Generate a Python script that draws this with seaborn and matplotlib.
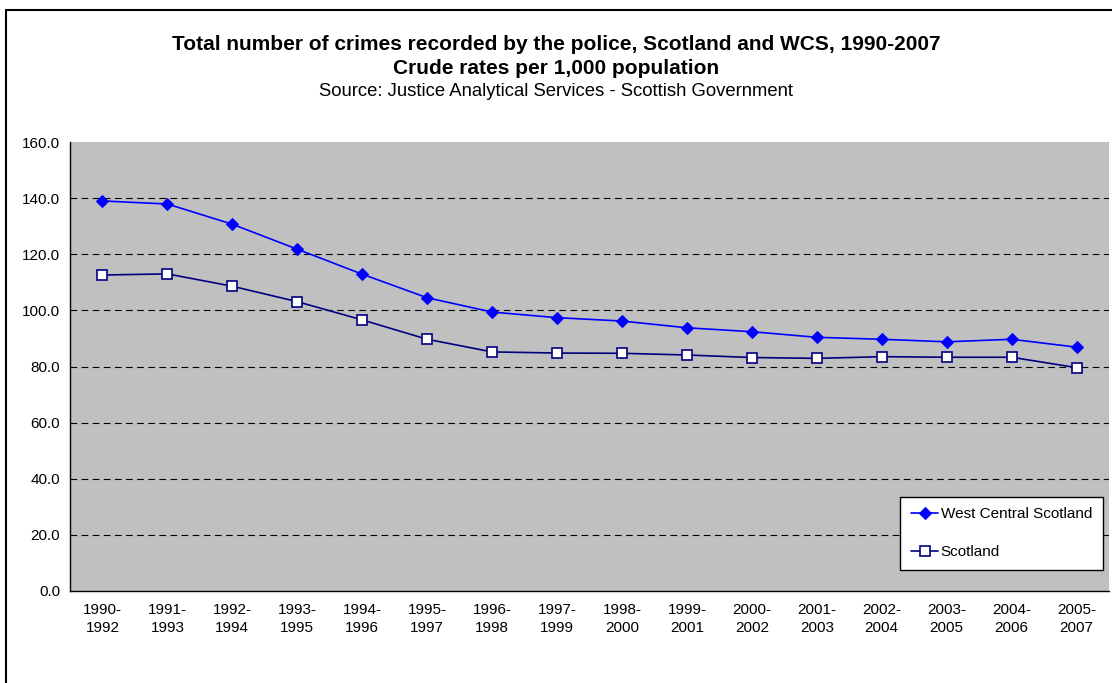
import matplotlib
matplotlib.use("Agg")
import matplotlib.pyplot as plt
import seaborn as sns
import pandas as pd
from matplotlib.lines import Line2D
from matplotlib.ticker import FixedLocator, NullFormatter

periods = ["1990-\n1992", "1991-\n1993", "1992-\n1994", "1993-\n1995", "1994-\n1996",
           "1995-\n1997", "1996-\n1998", "1997-\n1999", "1998-\n2000", "1999-\n2001",
           "2000-\n2002", "2001-\n2003", "2002-\n2004", "2003-\n2005", "2004-\n2006",
           "2005-\n2007"]
wcs = [139.0, 137.9, 130.7, 121.8, 112.9, 104.5, 99.4, 97.4, 96.2, 93.8,
       92.4, 90.4, 89.7, 88.8, 89.7, 86.9]
scotland = [112.6, 113.0, 108.6, 103.1, 96.6, 89.7, 85.2, 84.8, 84.7, 84.1,
            83.2, 82.9, 83.5, 83.3, 83.3, 79.6]
y_ticks = [0, 20, 40, 60, 80, 100, 120, 140, 160]

sns.set_style("white")
plt.rcParams["font.family"] = ["Liberation Sans", "DejaVu Sans"]
plt.rcParams["text.color"] = "black"
plt.rcParams["xtick.color"] = "black"
plt.rcParams["ytick.color"] = "black"

df = pd.DataFrame({"period": periods * 2,
                   "rate": wcs + scotland,
                   "area": ["West Central Scotland"] * len(wcs) + ["Scotland"] * len(scotland)})

fig = plt.figure(figsize=(11.12, 6.83), dpi=100)
fig.patch.set_facecolor("white")
ax = fig.add_axes([70 / 1112, 92 / 683, 1039 / 1112, 449 / 683])
ax.set_facecolor("#C0C0C0")

sns.lineplot(data=df[df.area == "West Central Scotland"], x="period", y="rate",
             ax=ax, color="#0000FF", lw=1.2, marker="D", markersize=6,
             markerfacecolor="#0000FF", markeredgecolor="#0000FF",
             label="West Central Scotland", sort=False)
sns.lineplot(data=df[df.area == "Scotland"], x="period", y="rate",
             ax=ax, color="#000080", lw=1.2, marker="s", markersize=7,
             markerfacecolor="white", markeredgecolor="#000080", markeredgewidth=1.2,
             label="Scotland", sort=False)

ax.set_xlim(-0.5, len(periods) - 0.5)
ax.set_ylim(0, 160)
ax.set_yticks(y_ticks)
ax.set_yticklabels([f"{v:.1f}" for v in y_ticks], fontsize=11)
ax.set_xticks(range(len(periods)))
ax.set_xticklabels(periods, fontsize=11, linespacing=1.35)
ax.xaxis.set_minor_locator(FixedLocator([i - 0.5 for i in range(len(periods) + 1)]))
ax.xaxis.set_minor_formatter(NullFormatter())
ax.tick_params(axis="x", which="major", length=0, pad=9)
ax.tick_params(axis="x", which="minor", length=5, width=1, color="black", direction="out")
ax.tick_params(axis="y", length=5, width=1, color="black", direction="out", pad=2)
ax.set_xlabel("")
ax.set_ylabel("")

for v in y_ticks[1:-1]:
    ax.axhline(v, color="black", lw=0.8, ls=(0, (6, 4)), zorder=1)

for side in ["top", "right"]:
    ax.spines[side].set_visible(False)
for side in ["left", "bottom"]:
    ax.spines[side].set_color("black")
    ax.spines[side].set_linewidth(1)

leg = ax.legend(loc="lower right", bbox_to_anchor=(0.994, 0.047), borderaxespad=0,
                fontsize=11, frameon=True, fancybox=False, edgecolor="black",
                framealpha=1, handlelength=1.8, labelspacing=1.57, borderpad=0.7,
                handletextpad=0.15)
leg.get_frame().set_linewidth(1)

fig.text(0.5, 1 - 44 / 683, "Total number of crimes recorded by the police, Scotland and WCS, 1990-2007",
         ha="center", va="center", fontsize=15, fontweight="bold")
fig.text(0.5, 1 - 68 / 683, "Crude rates per 1,000 population",
         ha="center", va="center", fontsize=15, fontweight="bold")
fig.text(0.5, 1 - 92 / 683, "Source: Justice Analytical Services - Scottish Government",
         ha="center", va="center", fontsize=13.3)

# outer chart frame: only the top and left edges fall inside the canvas
fig.add_artist(Line2D([5.5 / 1112, 1.0], [1 - 9.5 / 683, 1 - 9.5 / 683],
                      transform=fig.transFigure, color="black", lw=1.5))
fig.add_artist(Line2D([5.5 / 1112, 5.5 / 1112], [0.0, 1 - 9.5 / 683],
                      transform=fig.transFigure, color="black", lw=1.5))

fig.savefig("out.png", dpi=100)
